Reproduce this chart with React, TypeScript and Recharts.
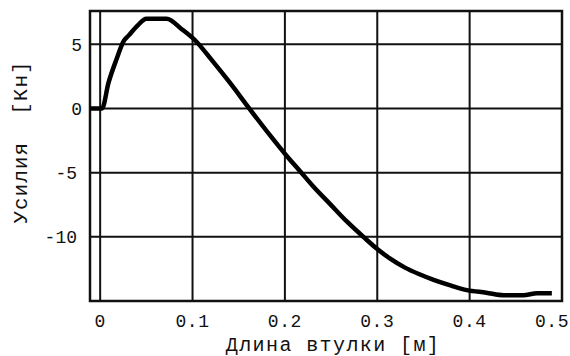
import React from 'react';
import { LineChart, Line, XAxis, YAxis, CartesianGrid, ReferenceArea } from 'recharts';

const lengthM = [-0.011, 0.002, 0.009, 0.018, 0.025, 0.031, 0.041, 0.05, 0.072, 0.088, 0.103, 0.12, 0.14, 0.162, 0.184, 0.202, 0.216, 0.231, 0.249, 0.267, 0.285, 0.3, 0.314, 0.33, 0.345, 0.361, 0.38, 0.397, 0.418, 0.437, 0.458, 0.473, 0.489];
const forceKn = [0, 0, 2.0, 3.9, 5.2, 5.7, 6.5, 7.0, 7.0, 6.2, 5.3, 3.85, 2.05, -0.05, -2.1, -3.7, -4.85, -6.1, -7.45, -8.8, -10.0, -10.95, -11.7, -12.4, -12.9, -13.35, -13.8, -14.15, -14.35, -14.55, -14.55, -14.4, -14.4];
const xTicks = [0, 0.1, 0.2, 0.3, 0.4, 0.5];
const yTicks = [-10, -5, 0, 5];
const xLabel = 'Длина втулки [м]';
const yLabel = 'Усилия  [Кн]';

const data = lengthM.map((x, i) => ({ x, y: forceKn[i] }));

const X_MIN = -0.011;
const X_MAX = 0.5;
const Y_MIN = -15;
const Y_MAX = 7.6;

const XTick = (props: any) => {
  const { x, y, payload } = props;
  const label = String(payload.value);
  const cx = Math.min(x, 570 - 18);
  return (
    <text x={cx} y={y} dy="0.71em" textAnchor="middle" fontFamily="Liberation Mono" fontSize={18} letterSpacing={0.6} fill="#111">
      {label}
    </text>
  );
};

const YTick = (props: any) => {
  const { x, y, payload } = props;
  const v = payload.value as number;
  const shift = v < 0 ? -5 : 0;
  return (
    <text x={x + shift} y={y} dy="0.355em" textAnchor="end" fontFamily="Liberation Mono" fontSize={18} fill="#111">
      {String(v)}
    </text>
  );
};

export default function App() {
  return (
    <div style={{ position: 'absolute', left: 0, top: 0, width: 570, height: 356, background: '#fff' }}>
      <LineChart width={570} height={356} data={data} margin={{ top: 11, right: 8, left: 0, bottom: 0 }}>
        <CartesianGrid stroke="#111" strokeWidth={2} />
        <XAxis
          dataKey="x"
          type="number"
          domain={[X_MIN, X_MAX]}
          ticks={xTicks}
          allowDataOverflow
          height={55}
          axisLine={false}
          tickLine={false}
          tickSize={0}
          tickMargin={13}
          tick={<XTick />}
        />
        <YAxis
          type="number"
          domain={[Y_MIN, Y_MAX]}
          ticks={yTicks}
          allowDataOverflow
          width={90}
          axisLine={false}
          tickLine={false}
          tickSize={0}
          tickMargin={8}
          tick={<YTick />}
        />
        <ReferenceArea x1={X_MIN} x2={X_MAX} y1={Y_MIN} y2={Y_MAX} fill="none" stroke="#111" strokeWidth={2.5} fillOpacity={0} />
        <Line dataKey="y" type="monotone" stroke="#000" strokeWidth={4.5} dot={false} isAnimationActive={false} />
      </LineChart>
      <svg width={570} height={356} style={{ position: 'absolute', left: 0, top: 0, pointerEvents: 'none' }}>
        <text x={333} y={351} textAnchor="middle" fontFamily="Liberation Mono" fontSize={20} letterSpacing={1.4} fill="#111" style={{ whiteSpace: 'pre' }}>{xLabel}</text>
        <text x={0} y={0} transform="translate(27,142) rotate(-90)" textAnchor="middle" fontFamily="Liberation Mono" fontSize={21} letterSpacing={1.0} fill="#111" style={{ whiteSpace: 'pre' }}>{yLabel}</text>
      </svg>
    </div>
  );
}
